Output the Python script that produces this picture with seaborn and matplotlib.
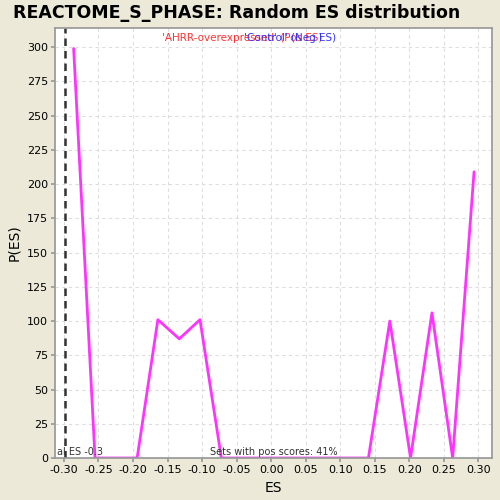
import matplotlib
matplotlib.use("Agg")
import matplotlib.pyplot as plt
import seaborn as sns
import pandas as pd
import numpy as np

es = [-0.286, -0.255, -0.225, -0.194, -0.164, -0.133, -0.103, -0.072, -0.042, -0.011,
      0.019, 0.050, 0.080, 0.111, 0.141, 0.172, 0.202, 0.233, 0.263, 0.294]
pes = [299, 0, 0, 0, 101, 87, 101, 0, 0, 0,
       0, 0, 0, 0, 0, 100, 0, 106, 0, 209]
real_es = -0.298
xticks = [-0.30, -0.25, -0.20, -0.15, -0.10, -0.05, 0.00, 0.05, 0.10, 0.15, 0.20, 0.25, 0.30]
yticks = list(range(0, 301, 25))

df = pd.DataFrame({"ES": es, "P(ES)": pes})

sns.set_theme(style="white")
plt.rcParams['font.family'] = ['DejaVu Sans']

fig = plt.figure(figsize=(5, 5), dpi=100, facecolor="#ECE9D8")
ax = fig.add_axes([0.11, 0.084, 0.874, 0.86])
ax.set_facecolor("white")

sns.lineplot(data=df, x="ES", y="P(ES)", ax=ax, color="#FF33FF", linewidth=2)
ax.axvline(real_es, color="#333333", linestyle=(0, (3, 2)), linewidth=1.8)

ax.set_xlim(-0.313, 0.320)
ax.set_ylim(0, 314)
ax.set_xticks(xticks)
ax.set_xticklabels([f"{t:.2f}" for t in xticks], fontsize=8)
ax.set_yticks(yticks)
ax.set_yticklabels([str(t) for t in yticks], fontsize=8)
ax.grid(True, color="#DDDDDD", linestyle=(0, (3, 3)), linewidth=0.8)
for s in ax.spines.values():
    s.set_color("#999999")
ax.tick_params(axis="both", which="both", length=3, color="#999999", pad=2, labelcolor="black")
ax.tick_params(left=True, bottom=True)
ax.set_xlabel("ES", fontsize=10, color="black")
ax.set_ylabel("P(ES)", fontsize=10, color="black")

fig.suptitle("REACTOME_S_PHASE: Random ES distribution", fontsize=12.5,
             fontweight="bold", color="black", x=0.473, y=0.993)

ax.text(0.245, 0.988, "'AHRR-overexpressed' (Pos ES)", transform=ax.transAxes,
        color="#FF3333", fontsize=7.5, va="top")
ax.text(0.432, 0.988, "'Control' (Neg ES)", transform=ax.transAxes,
        color="#3333FF", fontsize=7.5, va="top")
ax.text(0.005, 0.003, "al ES -0.3", transform=ax.transAxes, color="#333333",
        fontsize=7, va="bottom")
ax.text(0.354, 0.003, "Sets with pos scores: 41%", transform=ax.transAxes,
        color="#333333", fontsize=7, va="bottom")

fig.savefig("out.png", dpi=100, facecolor=fig.get_facecolor())
